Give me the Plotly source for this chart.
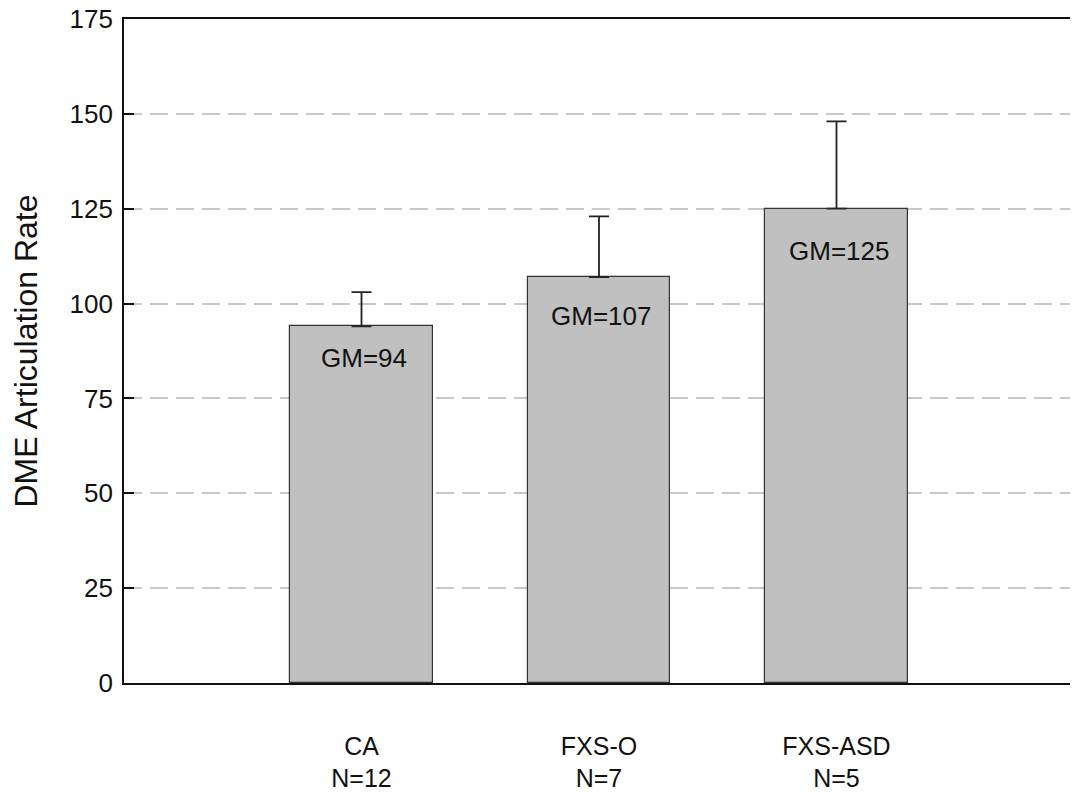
import plotly.graph_objects as go

positions = [1, 2, 3]
groups = ["CA", "FXS-O", "FXS-ASD"]
n_labels = ["N=12", "N=7", "N=5"]
means = [94, 107, 125]
err_plus = [9, 16, 23]
gm_labels = ["GM=94", "GM=107", "GM=125"]
y_ticks = [0, 25, 50, 75, 100, 125, 150, 175]

FONT = "Liberation Sans, Arial, sans-serif"

fig = go.Figure()
fig.add_trace(go.Bar(
    x=positions, y=means, width=0.6,
    marker=dict(color="#c0c0c0", line=dict(color="#333333", width=1.2)),
    error_y=dict(type="data", symmetric=False, array=err_plus, arrayminus=[0, 0, 0],
                 color="#222222", thickness=1.8, width=10),
    showlegend=False, hoverinfo="skip",
))

label_shifts = [-32, -39, -42]
for xp, yv, t, s in zip(positions, means, gm_labels, label_shifts):
    fig.add_annotation(x=xp, y=yv, text=t, showarrow=False, yshift=s, xshift=2,
                       font=dict(family=FONT, size=26, color="#111111"))

fig.update_layout(
    width=1070, height=788,
    margin=dict(l=116, r=4, t=11, b=113),
    paper_bgcolor="white", plot_bgcolor="white",
    font=dict(family=FONT, color="#111111"),
    bargap=0,
)
fig.update_xaxes(
    range=[0, 4], tickvals=positions,
    ticktext=[f"{g}<br>{n}" for g, n in zip(groups, n_labels)],
    tickfont=dict(family=FONT, size=25, color="#111111"),
    ticks="", ticklabelstandoff=40, automargin=False,
    showline=True, linecolor="#111111", linewidth=1.8, mirror=True,
    showgrid=False, zeroline=False,
)
fig.update_yaxes(
    range=[0, 175], tickvals=y_ticks,
    tickfont=dict(family=FONT, size=26, color="#111111"),
    ticks="inside", ticklen=10, tickwidth=1.8, tickcolor="#111111",
    ticklabeloverflow="allow", ticklabelstandoff=4, automargin=False,
    showline=True, linecolor="#111111", linewidth=1.8, mirror=True,
    showgrid=True, gridcolor="#c8c8c8", gridwidth=2, griddash="18px,8px",
    zeroline=False,
    title=dict(text="DME Articulation Rate", standoff=22,
               font=dict(family=FONT, size=32, color="#111111")),
)

fig.write_html("out.html")
